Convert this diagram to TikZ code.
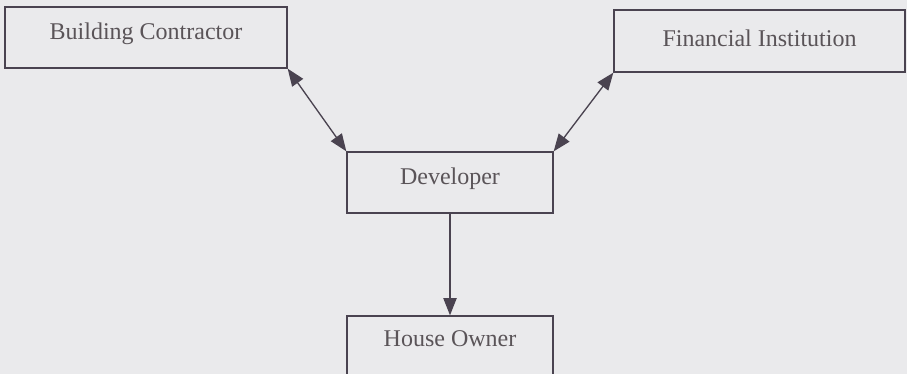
\documentclass[tikz,border=0pt]{standalone}
\usepackage{fontspec}
\setmainfont{Liberation Serif}
\usetikzlibrary{arrows.meta}
\definecolor{paper}{HTML}{EAEAEC}
\definecolor{ink}{HTML}{4A4350}
\definecolor{label}{HTML}{5A5458}
\begin{document}
\begin{tikzpicture}[x=0.75pt,y=-0.75pt,
  >={Triangle[length=13pt,width=10pt]},
  entity/.style={draw=ink, line width=1pt, fill=paper, inner sep=0pt,
    text=label, font=\fontsize{18}{22}\selectfont},
  link/.style={draw=ink, line width=1pt}]
  % page area
  \fill[paper] (0,0) rectangle (907,374);
  \useasboundingbox (0,0) rectangle (907,374);
  \clip (0,0) rectangle (907,374);

  % parties
  \node[entity, minimum width=282*0.75pt, minimum height=61*0.75pt] (bc) at (146,37.5) {};
  \node[text=label, font=\fontsize{18}{22}\selectfont] at (146,33.5) {Building Contractor};
  \node[entity, minimum width=291*0.75pt, minimum height=62*0.75pt] (fi) at (759.5,41) {};
  \node[text=label, font=\fontsize{18}{22}\selectfont] at (759.5,38) {Financial Institution};
  \node[entity, minimum width=206*0.75pt, minimum height=61*0.75pt] (dev) at (450,182.5) {};
  \node[text=label, font=\fontsize{18}{22}\selectfont] at (450,178.5) {Developer};
  \node[entity, minimum width=206*0.75pt, minimum height=68*0.75pt] (ho) at (450,350) {};
  \node[text=label, font=\fontsize{18}{22}\selectfont] (holabel) at (450,339) {House Owner};

  % relations
  \draw[link, <->] (bc.south east) -- (dev.north west);
  \draw[link, <->] (fi.south west) -- (dev.north east);
  \draw[link, ->] (dev.south) -- (ho.north);
\end{tikzpicture}
\end{document}
